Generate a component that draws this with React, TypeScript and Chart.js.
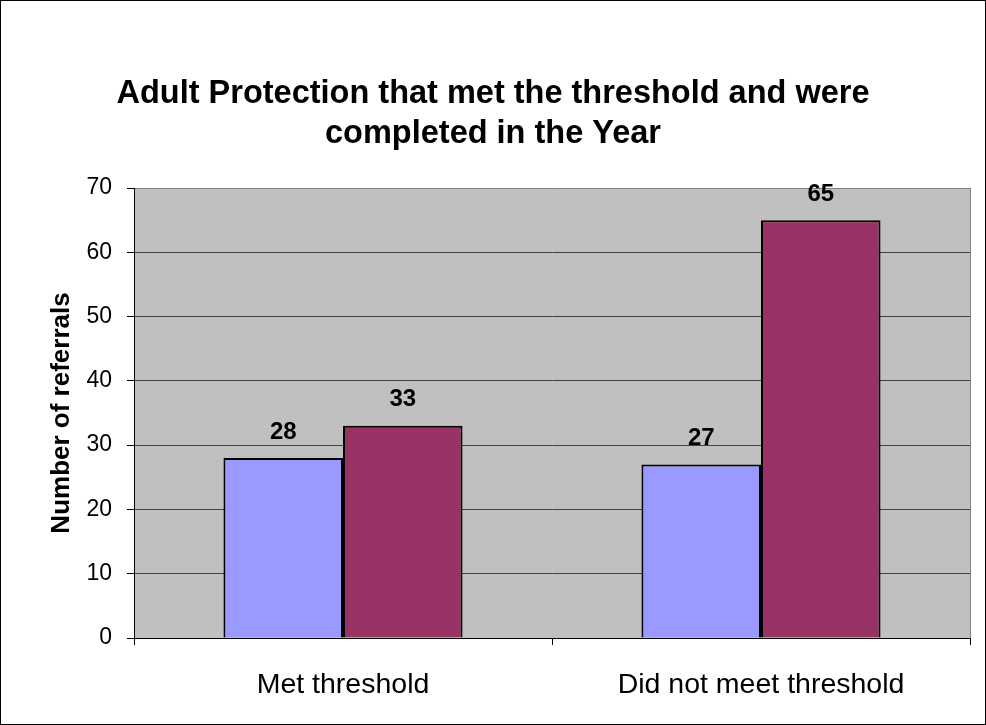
import React, { useEffect, useRef } from "react";
import { Chart, registerables } from "chart.js";

Chart.register(...registerables);

const titleLines = ["Adult Protection that met the threshold and were", "completed in the Year"];
const categories = ["Met threshold", "Did not meet threshold"];
const seriesA = [28, 27];
const seriesB = [33, 65];
const yAxisTitle = "Number of referrals";
const yMin = 0;
const yMax = 70;
const yStep = 10;

const FONT = "'Liberation Sans', Arial, sans-serif";

const plotBgPlugin = {
  id: "plotBg",
  beforeDraw(chart: any) {
    const { ctx, chartArea, width, height } = chart;
    ctx.save();
    ctx.fillStyle = "#ffffff";
    ctx.fillRect(0, 0, width, height);
    ctx.fillStyle = "#C0C0C0";
    ctx.fillRect(chartArea.left, chartArea.top, chartArea.right - chartArea.left, chartArea.bottom - chartArea.top);
    ctx.strokeStyle = "#000000";
    ctx.lineWidth = 1;
    ctx.strokeRect(0.5, 0.5, width - 1, height - 1);
    ctx.restore();
  },
  beforeDatasetsDraw(chart: any) {
    const { ctx, chartArea } = chart;
    ctx.save();
    ctx.strokeStyle = "#808080";
    ctx.lineWidth = 1;
    ctx.beginPath();
    const x = Math.round(chartArea.right) + 0.5;
    ctx.moveTo(x, chartArea.top);
    ctx.lineTo(x, chartArea.bottom);
    ctx.stroke();
    ctx.restore();
  },
};

const dataLabelPlugin = {
  id: "dataLabels",
  afterDatasetsDraw(chart: any) {
    const { ctx } = chart;
    ctx.save();
    ctx.font = `bold 24px ${FONT}`;
    ctx.fillStyle = "#000000";
    ctx.textAlign = "center";
    ctx.textBaseline = "middle";
    chart.data.datasets.forEach((ds: any, i: number) => {
      const meta = chart.getDatasetMeta(i);
      meta.data.forEach((el: any, j: number) => {
        ctx.fillText(String(ds.data[j]), el.x, el.y - 26);
      });
    });
    ctx.restore();
  },
};

export default function App() {
  const ref = useRef<HTMLCanvasElement | null>(null);
  useEffect(() => {
    if (!ref.current) return;
    const chart = new Chart(ref.current, {
      type: "bar",
      data: {
        labels: categories,
        datasets: [
          {
            label: "Series 1",
            data: seriesA,
            backgroundColor: "#9999FF",
            borderColor: "#000000",
            borderWidth: 2,
            barPercentage: 1,
            categoryPercentage: 0.572,
          },
          {
            label: "Series 2",
            data: seriesB,
            backgroundColor: "#993366",
            borderColor: "#000000",
            borderWidth: 2,
            barPercentage: 1,
            categoryPercentage: 0.572,
          },
        ],
      },
      options: {
        responsive: false,
        animation: false,
        devicePixelRatio: 1,
        layout: { padding: { top: 0, right: 16, bottom: 0, left: 16 } },
        plugins: {
          legend: { display: false },
          tooltip: { enabled: false },
          title: {
            display: true,
            text: titleLines,
            color: "#000000",
            font: { family: FONT, size: 32.5, weight: "bold", lineHeight: 40 / 32.5 },
            padding: { top: 74, bottom: 34 },
          },
        },
        scales: {
          x: {
            grid: {
              display: true,
              drawOnChartArea: false,
              drawTicks: true,
              tickLength: 7,
              tickColor: "#000000",
              offset: true,
            },
            border: { display: true, color: "#000000", width: 1 },
            ticks: {
              color: "#000000",
              font: { family: FONT, size: 28.5 },
              padding: 23,
              maxRotation: 0,
            },
            afterFit(scale: any) {
              scale.height = 87;
            },
          },
          y: {
            min: yMin,
            max: yMax,
            ticks: {
              stepSize: yStep,
              color: "#000000",
              font: { family: FONT, size: 23 },
              padding: 15,
            },
            grid: {
              color: (c: any) => (c.tick && c.tick.value === yMax ? "#808080" : "#404040"),
              lineWidth: 1,
              drawTicks: true,
              tickLength: 7,
              tickColor: "#000000",
            },
            border: { display: true, color: "#000000", width: 1 },
            title: {
              display: true,
              text: yAxisTitle,
              color: "#000000",
              font: { family: FONT, size: 26, weight: "bold" },
              padding: { top: 30, bottom: 0 },
            },
            afterFit(scale: any) {
              scale.width = 118;
            },
          },
        },
      },
      plugins: [plotBgPlugin, dataLabelPlugin],
    });
    return () => chart.destroy();
  }, []);
  return (
    <div style={{ position: "absolute", left: 0, top: 0, width: 986, height: 725 }}>
      <canvas ref={ref} width={986} height={725} style={{ display: "block" }} />
    </div>
  );
}
